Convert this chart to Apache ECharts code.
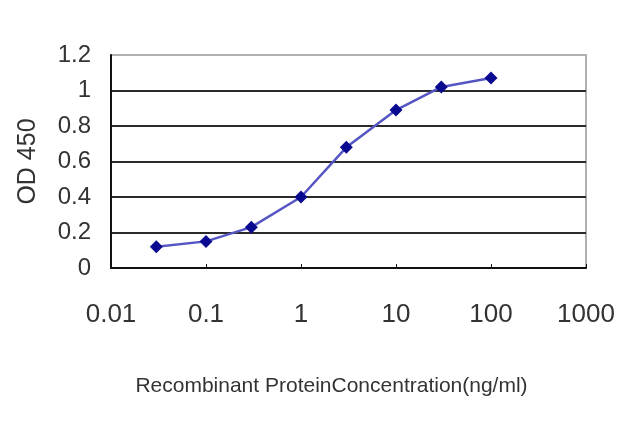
<!DOCTYPE html>
<html>
<head>
<meta charset="utf-8">
<script src="https://cdn.jsdelivr.net/npm/echarts@6/dist/echarts.min.js"></script>
<style>
  html, body { margin: 0; padding: 0; background: #fff; }
  #chart { width: 640px; height: 427px; }
</style>
</head>
<body>
<div id="chart"></div>
<script>
// 浓度 (ng/ml) 与 OD450 读数
const concentrations = [0.03, 0.1, 0.3, 1, 3, 10, 30, 100];
const odValues = [0.12, 0.15, 0.23, 0.40, 0.68, 0.89, 1.02, 1.07];
const xTickLabels = ['0.01', '0.1', '1', '10', '100', '1000'];
const yTickLabels = ['0', '0.2', '0.4', '0.6', '0.8', '1', '1.2'];

const seriesData = concentrations.map((c, i) => [c, odValues[i]]);
const textColor = '#333';

const option = {
    animation: false,
    grid: {
        left: 111,
        right: 54,
        top: 55,
        bottom: 159,
        show: true,
        borderColor: '#b0b0b0',
        borderWidth: 2
    },
    xAxis: {
        type: 'log',
        logBase: 10,
        min: 0.01,
        max: 1000,
        name: 'Recombinant ProteinConcentration(ng/ml)',
        nameLocation: 'middle',
        nameGap: 108,
        nameTextStyle: {
            fontFamily: 'Liberation Sans',
            fontSize: 21,
            color: textColor,
            padding: [0, 34, 0, 0]
        },
        axisLine: { lineStyle: { color: '#111', width: 2 } },
        axisTick: { show: true, inside: true, length: 4, lineStyle: { color: '#111' } },
        splitLine: { show: false },
        axisLabel: {
            margin: 34,
            fontFamily: 'Liberation Sans',
            fontSize: 26,
            color: textColor,
            formatter: (v) => {
                const idx = Math.round(Math.log10(v)) + 2;
                return xTickLabels[idx] || '';
            }
        }
    },
    yAxis: {
        type: 'value',
        min: 0,
        max: 1.2,
        interval: 0.2,
        name: 'OD 450',
        nameLocation: 'middle',
        nameGap: 70,
        nameTextStyle: {
            fontFamily: 'Liberation Sans',
            fontSize: 25,
            color: textColor
        },
        axisLine: { show: true, lineStyle: { color: '#111', width: 2 } },
        axisTick: { show: false },
        splitLine: {
            show: true,
            lineStyle: {
                color: ['transparent', '#2a2a2a', '#2a2a2a', '#2a2a2a', '#2a2a2a', '#2a2a2a', '#b0b0b0'],
                width: 2
            }
        },
        axisLabel: {
            margin: 20,
            fontFamily: 'Liberation Sans',
            fontSize: 24,
            color: textColor,
            formatter: (v) => yTickLabels[Math.round(v / 0.2)]
        }
    },
    series: [{
        type: 'line',
        data: seriesData,
        symbol: 'diamond',
        symbolSize: 13,
        lineStyle: { color: '#5555c4', width: 2.5 },
        itemStyle: { color: '#0a0a90' }
    }]
};

const myChart = echarts.init(document.getElementById('chart'));
myChart.setOption(option);
</script>
</body>
</html>
